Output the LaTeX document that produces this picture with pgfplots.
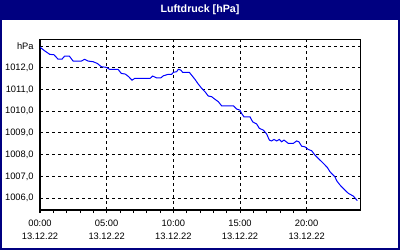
\documentclass[border=0pt]{standalone}
\usepackage{fontspec}
\setmainfont{Liberation Sans}
\usepackage{pgfplots}
\pgfplotsset{compat=1.18}
\definecolor{navy}{RGB}{0,0,128}
\begin{document}
\begin{tikzpicture}[x=0.75pt,y=0.75pt]
\fill[navy] (0,0) rectangle (400,250);
\fill[white] (2,2) rectangle (398,230);
\node[text=white,font=\fontsize{8}{9}\selectfont\bfseries] at (200,240) {Luftdruck [hPa]};
\begin{axis}[
  at={(30pt,30pt)}, anchor=south west,
  scale only axis, width=240pt, height=127.5pt,
  xmin=0, xmax=24, ymin=1005.45, ymax=1013.28,
  axis line style={black, line width=0.75pt},
  xtick={0,5,10,15,20},
  xticklabels={{00:00\\13.12.22},{05:00\\13.12.22},{10:00\\13.12.22},{15:00\\13.12.22},{20:00\\13.12.22}},
  minor x tick num=4,
  xtick pos=bottom, tick align=outside,
  major tick length=2.25pt, minor tick length=2.25pt,
  every tick/.style={black, line width=0.75pt},
  ytick={1006,1007,1008,1009,1010,1011,1012,1013},
  yticklabels={{1006,0},{1007,0},{1008,0},{1009,0},{1010,0},{1011,0},{1012,0},hPa},
  ytick style={draw=none},
  ymajorgrids, xmajorgrids,
  major grid style={black, line width=0.75pt, dash pattern=on 2.25pt off 2.25pt},
  x tick label style={align=center, font=\fontsize{7}{9.75}\selectfont, yshift=-2pt},
  y tick label style={font=\fontsize{7}{8}\selectfont, xshift=1pt},
  clip=true,
]
\addplot[blue, line width=0.75pt] coordinates {
(0.0,1012.95) (0.35,1012.78) (0.73,1012.62) (1.05,1012.60) (1.35,1012.40) (1.65,1012.40)
(1.85,1012.54) (2.2,1012.54) (2.48,1012.31) (3.1,1012.31) (3.35,1012.39) (3.6,1012.31)
(3.98,1012.28) (4.3,1012.20) (4.6,1012.05) (4.97,1012.02) (5.22,1011.93) (5.85,1011.93)
(6.1,1011.74) (6.4,1011.71) (6.65,1011.59) (6.9,1011.43) (7.1,1011.51) (8.25,1011.51)
(8.45,1011.62) (8.75,1011.53) (9.05,1011.53) (9.25,1011.63) (9.62,1011.70) (9.87,1011.70)
(10.0,1011.79) (10.25,1011.82) (10.37,1011.93) (10.55,1011.90) (10.7,1011.79) (11.2,1011.79)
(11.37,1011.66) (11.62,1011.47) (11.87,1011.25) (12.13,1011.05) (12.37,1010.90) (12.62,1010.70)
(12.87,1010.67) (13.12,1010.55) (13.37,1010.44) (13.62,1010.25) (14.5,1010.25) (14.75,1010.10)
(15.0,1010.05) (15.12,1009.90) (15.3,1009.74) (15.75,1009.74) (15.95,1009.51) (16.25,1009.41)
(16.45,1009.21) (16.75,1009.13) (17.0,1008.95) (17.2,1008.67) (17.37,1008.63) (17.55,1008.70)
(17.75,1008.63) (17.95,1008.70) (18.12,1008.59) (18.3,1008.67) (18.62,1008.52) (19.0,1008.52)
(19.25,1008.63) (19.42,1008.59) (19.62,1008.39) (19.87,1008.36) (20.12,1008.24) (20.37,1008.18)
(20.62,1007.98) (20.95,1007.78) (21.25,1007.60) (21.55,1007.41) (21.75,1007.21) (22.12,1006.98)
(22.25,1006.80) (22.5,1006.60) (22.8,1006.41) (23.12,1006.22) (23.5,1006.09) (23.8,1005.88)
};
\end{axis}
\end{tikzpicture}
\end{document}
